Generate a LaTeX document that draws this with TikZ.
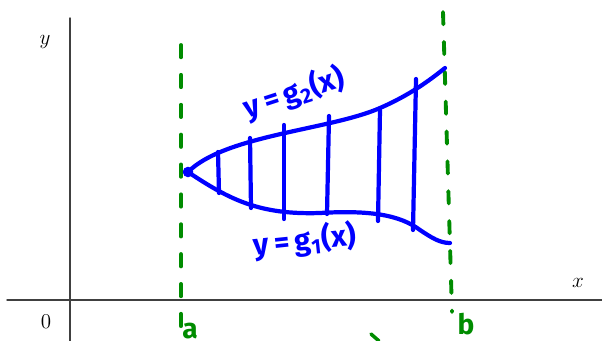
\documentclass[tikz,border=0pt]{standalone}
\usepackage{fontspec}
\newfontfamily\handfont{Fira Sans}
\begin{document}
\begin{tikzpicture}[x=0.02cm, y=-0.02cm, line join=round, line cap=round]
			\tikzset{
				axis/.style={draw=black!75, line width=0.8pt},
				bound/.style={draw=green!55!black, line width=2.2pt, dash pattern=on 7pt off 10pt},
				curve/.style={draw=blue, line width=2.4pt},
				hand/.style={font=\handfont\bfseries\fontsize{17}{19}\selectfont, text=blue, inner sep=0pt},
			}
			\useasboundingbox (0,0) rectangle (602,341);
			\path
			(7,300) coordinate (X0)
			(602,300) coordinate (X1)
			(70,18) coordinate (Y0)
			(70,341) coordinate (Y1)
			(181,45) coordinate (A0)
			(181,341) coordinate (A1)
			(443,12) coordinate (B0)
			(452,312) coordinate (B1)
			(188,172) coordinate (P)
			(445,68) coordinate (Q)
			(450,243) coordinate (R)
			;
			\draw[axis] (X0)--(X1) (Y0)--(Y1);
			\node (ylab) at (45,42) {\large$y$};
			\node (xlab) at (578,283) {\large$x$};
			\node (orig) at (46,322) {\large$0$};
			% bounds x=a and x=b
			\draw[bound] (A0)--(A1);
			\draw[bound] (B0)--(B1);
			\node[font=\handfont\bfseries\fontsize{16}{18}\selectfont, text=green!55!black, inner sep=0pt] (alab) at (190,331) {a};
			\node[font=\handfont\bfseries\fontsize{16}{18}\selectfont, text=green!55!black, inner sep=0pt] (blab) at (466,324) {b};
			\draw[green!55!black, line width=2pt] (371,334) -- (379,341);
			% the region
			\draw[curve] (P) .. controls (225,135) and (330,130) .. (380,108) .. controls (410,95) and (430,80) .. (Q);
			\draw[curve] (P) .. controls (230,200) and (260,215) .. (320,213) .. controls (370,210) and (400,215) .. (420,230) .. controls (432,238) and (440,243) .. (R);
			\fill[blue] (P) circle (3pt);
			\foreach \xa/\ya/\xb/\yb in {218/152/219/193, 250/138/251/208, 284/125/284/219, 329/116/327/214, 380/110/378/221, 416/79/413/230}
			\draw[curve] (\xa,\ya)--(\xb,\yb);
			\node[hand, rotate=18] (g2) at (294,93) {y\,=\,g\textsubscript{2}(x)};
			\node[hand, rotate=6] (g1) at (305,241) {y\,=\,g\textsubscript{1}(x)};
		\end{tikzpicture}
\end{document}
